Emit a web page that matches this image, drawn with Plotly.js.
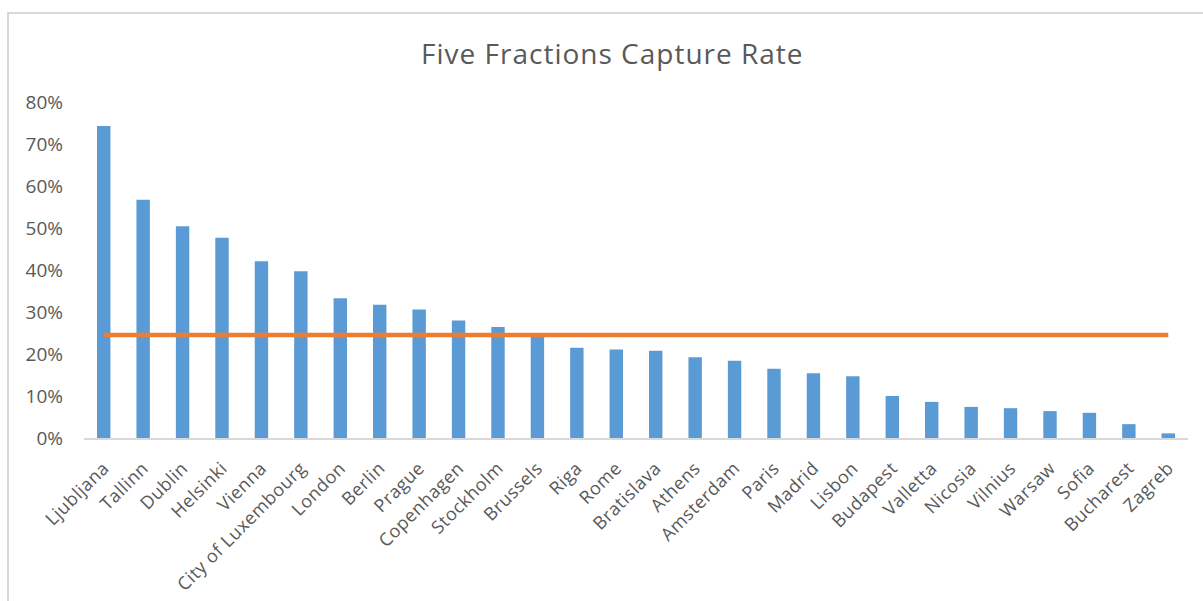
<!DOCTYPE html>
<html>
<head>
<meta charset="utf-8">
<script src="https://cdn.plot.ly/plotly-3.0.1.min.js"></script>
<style>
  html, body { margin: 0; padding: 0; background: #ffffff; }
  #wrap { position: relative; width: 1203px; height: 601px; overflow: hidden; }
  #chart { width: 1203px; height: 601px; }
  #frame { position: absolute; left: 7px; top: 12px; width: 1196px; height: 600px;
           border-top: 2px solid #d9d9d9; border-left: 2px solid #d9d9d9; pointer-events: none; }
  #chart .gtitle { letter-spacing: 1px; }
  #chart .xtick text { letter-spacing: 0.5px; }
</style>
</head>
<body>
<div id="wrap">
  <div id="chart"></div>
  <div id="frame"></div>
</div>
<script>
const cities = [
  "Ljubljana", "Tallinn", "Dublin", "Helsinki", "Vienna", "City of Luxembourg",
  "London", "Berlin", "Prague", "Copenhagen", "Stockholm", "Brussels", "Riga",
  "Rome", "Bratislava", "Athens", "Amsterdam", "Paris", "Madrid", "Lisbon",
  "Budapest", "Valletta", "Nicosia", "Vilnius", "Warsaw", "Sofia", "Bucharest", "Zagreb"
];
const captureRate = [
  0.743, 0.567, 0.504, 0.477, 0.421, 0.397,
  0.333, 0.317, 0.306, 0.280, 0.264, 0.243, 0.215,
  0.211, 0.208, 0.192, 0.184, 0.165, 0.154, 0.147,
  0.100, 0.086, 0.074, 0.071, 0.064, 0.060, 0.033, 0.011
];
const averageRate = 0.245;
const yTickValues = [0, 0.1, 0.2, 0.3, 0.4, 0.5, 0.6, 0.7, 0.8];
const yTickLabels = ["0%", "10%", "20%", "30%", "40%", "50%", "60%", "70%", "80%"];
const chartTitle = "Five Fractions Capture Rate";

const textColor = "#595959";
const fontFamily = "'Open Sans', 'Noto Sans', sans-serif";

const traces = [
  {
    type: "bar",
    x: cities,
    y: captureRate,
    marker: { color: "#5B9BD5" },
    hoverinfo: "x+y",
    showlegend: false
  },
  {
    type: "scatter",
    mode: "lines",
    x: cities,
    y: cities.map(() => averageRate),
    line: { color: "#ED7D31", width: 4.5 },
    hoverinfo: "y",
    showlegend: false
  }
];

const layout = {
  width: 1203,
  height: 601,
  margin: { l: 84, r: 15, t: 102, b: 163 },
  paper_bgcolor: "#ffffff",
  plot_bgcolor: "#ffffff",
  bargap: 0.66,
  title: {
    text: chartTitle,
    x: 0.509, xanchor: "center",
    y: 0.909, yanchor: "middle",
    font: { family: fontFamily, size: 28, color: textColor }
  },
  xaxis: {
    type: "category",
    tickangle: -45,
    tickfont: { family: fontFamily, size: 18, color: textColor },
    ticklabelstandoff: 11,
    showline: true,
    linecolor: "#d9d9d9",
    linewidth: 1.5,
    ticks: "",
    showgrid: false,
    zeroline: false,
    fixedrange: true
  },
  yaxis: {
    range: [0, 0.8],
    tickvals: yTickValues,
    ticktext: yTickLabels,
    tickfont: { family: fontFamily, size: 19, color: textColor },
    ticklabelstandoff: 20,
    showline: false,
    showgrid: false,
    zeroline: false,
    ticks: "",
    fixedrange: true
  }
};

Plotly.newPlot("chart", traces, layout, { displayModeBar: false, staticPlot: true });
</script>
</body>
</html>
